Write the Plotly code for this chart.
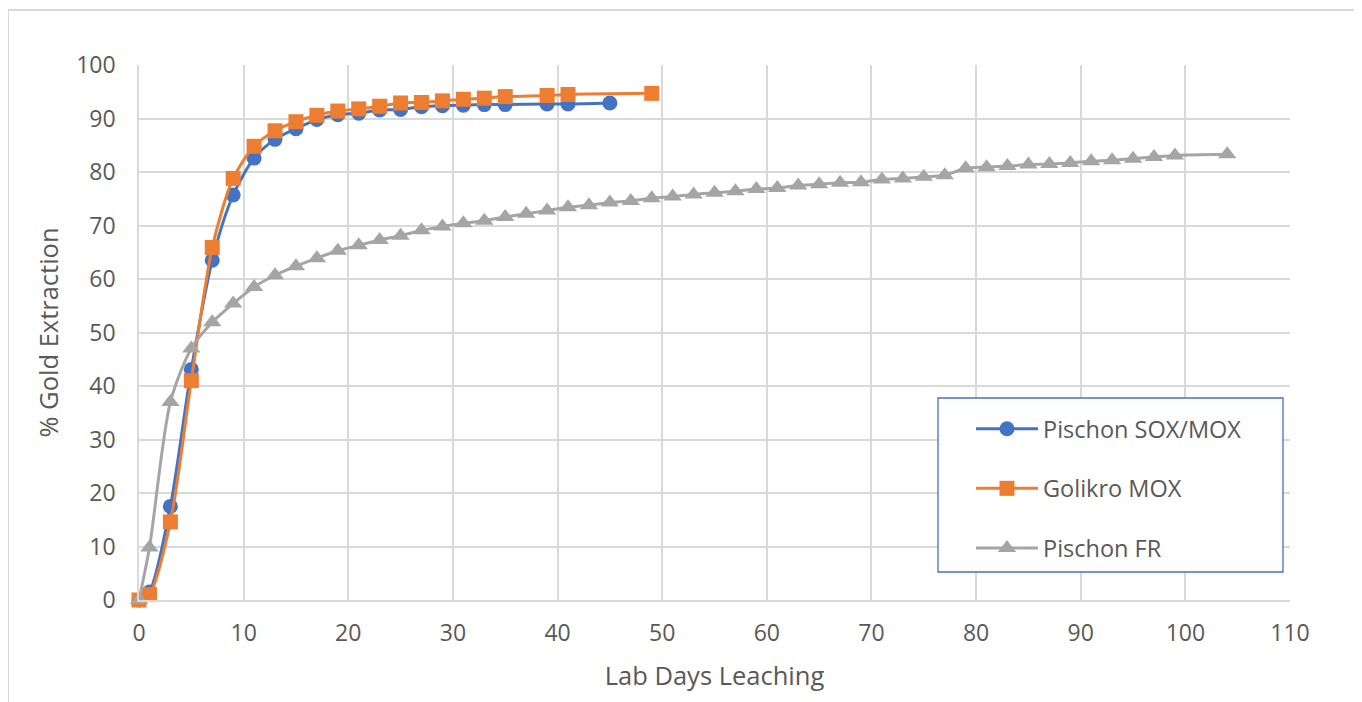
import plotly.graph_objects as go

# ---- data ----
sox_days = [0, 1, 3, 5, 7, 9, 11, 13, 15, 17, 19, 21, 23, 25, 27, 29, 31, 33, 35, 39, 41, 45]
sox_ext = [0, 1.5, 17.5, 43.1, 63.5, 75.7, 82.6, 86.1, 88.1, 89.8, 90.7, 91.0, 91.6, 91.7,
           92.2, 92.4, 92.5, 92.6, 92.6, 92.7, 92.7, 92.9]

gol_days = [0, 1, 3, 5, 7, 9, 11, 13, 15, 17, 19, 21, 23, 25, 27, 29, 31, 33, 35, 39, 41, 49]
gol_ext = [0, 1.0, 14.6, 41.0, 65.9, 78.8, 84.8, 87.7, 89.4, 90.6, 91.4, 91.8, 92.3, 92.9,
           93.0, 93.3, 93.6, 93.8, 94.1, 94.3, 94.5, 94.7]

fr_days = [0, 1, 3, 5, 7, 9, 11, 13, 15, 17, 19, 21, 23, 25, 27, 29, 31, 33, 35, 37, 39,
           41, 43, 45, 47, 49, 51, 53, 55, 57, 59, 61, 63, 65, 67, 69, 71, 73, 75, 77, 79,
           81, 83, 85, 87, 89, 91, 93, 95, 97, 99, 104]
fr_ext = [0, 9.8, 37.0, 47.0, 51.9, 55.4, 58.5, 60.7, 62.4, 63.9, 65.3, 66.3, 67.3, 68.1,
          69.1, 69.8, 70.4, 70.9, 71.6, 72.2, 72.8, 73.4, 73.8, 74.3, 74.6, 75.1, 75.4,
          75.8, 76.1, 76.4, 76.8, 77.0, 77.5, 77.7, 78.0, 78.1, 78.6, 78.8, 79.1, 79.4,
          80.7, 80.9, 81.1, 81.4, 81.5, 81.7, 82.0, 82.2, 82.5, 82.8, 83.1, 83.3]

x_ticks = [0, 10, 20, 30, 40, 50, 60, 70, 80, 90, 100, 110]
y_ticks = [0, 10, 20, 30, 40, 50, 60, 70, 80, 90, 100]

names = ["Pischon SOX/MOX", "Golikro MOX", "Pischon FR"]

# ---- styling ----
FONT = "Open Sans"
TXT = "#595959"
GRID = "#d9d9d9"

fig = go.Figure()
series = [
    (sox_days, sox_ext, names[0], "#4472C4", "circle", 15),
    (gol_days, gol_ext, names[1], "#ED7D31", "square", 15),
    (fr_days, fr_ext, names[2], "#A5A5A5", "triangle-up", 16),
]
for i, (xs, ys, nm, col, sym, sz) in enumerate(series):
    fig.add_trace(go.Scatter(
        x=xs, y=ys, name=nm, mode="lines+markers",
        line=dict(color=col, width=3, shape="spline", smoothing=0.8),
        marker=dict(color=col, symbol=sym, size=sz, line=dict(width=0)),
        cliponaxis=False, legendgroup=str(i),
    ))

# page body has an 8px margin: compensate so the plot area lands at the target pixels
OFF = 8
PL, PR, PT, PB = 139, 1290, 65, 600   # target plot-area edges (page pixels)
W, H = 1362, 702
L, T = PL - OFF, PT - OFF
R = W - (PR - OFF)
B = H - (PB - OFF)
pw, ph = PR - PL, PB - PT

def px(x):
    return (x - PL) / pw

def py(y):
    return (PB - y) / ph

fig.update_layout(
    width=W, height=H,
    margin=dict(l=L, r=R, t=T, b=B, pad=0),
    paper_bgcolor="white", plot_bgcolor="white",
    font=dict(family=FONT, color=TXT, size=23),
    showlegend=True,
    legend=dict(
        x=px(971), y=py(407), xanchor="left", yanchor="top",
        bgcolor="rgba(0,0,0,0)", borderwidth=0,
        font=dict(family=FONT, color=TXT, size=23.5),
        traceorder="grouped", tracegroupgap=26,
        itemwidth=62,
    ),
    xaxis=dict(
        range=[0, 110], tickvals=x_ticks, ticktext=[str(v) for v in x_ticks],
        showgrid=True, gridcolor=GRID, gridwidth=1.5,
        showline=True, linecolor=GRID, linewidth=1.5,
        zeroline=False, ticks="", ticklabelstandoff=12,
        tickfont=dict(family=FONT, color=TXT, size=23),
        title=dict(text="Lab Days Leaching", font=dict(family=FONT, color=TXT, size=25.5), standoff=20),
    ),
    yaxis=dict(
        range=[0, 100], tickvals=y_ticks, ticktext=[str(v) for v in y_ticks],
        showgrid=True, gridcolor=GRID, gridwidth=1.5,
        showline=True, linecolor=GRID, linewidth=1.5,
        zeroline=False, ticks="", ticklabelstandoff=17,
        tickfont=dict(family=FONT, color=TXT, size=23),
        title=dict(text="% Gold Extraction", font=dict(family=FONT, color=TXT, size=25.5), standoff=10),
    ),
    shapes=[
        # outer chart border
        dict(type="rect", xref="paper", yref="paper",
             x0=px(8), x1=px(1357), y0=py(715), y1=py(10),
             line=dict(color=GRID, width=2), fillcolor="rgba(0,0,0,0)", layer="below"),
        # legend box
        dict(type="rect", xref="paper", yref="paper",
             x0=px(938), x1=px(1283), y0=py(572), y1=py(398),
             line=dict(color="#4472C4", width=1.3), fillcolor="white", layer="above"),
    ],
)

fig.write_html("out.html")
